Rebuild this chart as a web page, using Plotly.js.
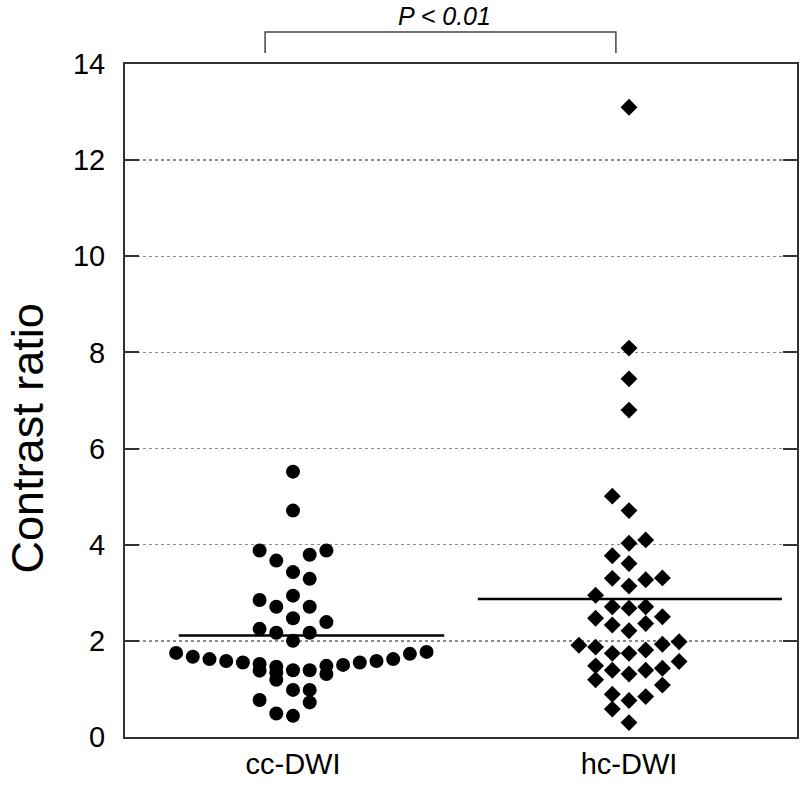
<!DOCTYPE html>
<html>
<head>
<meta charset="utf-8">
<script src="https://cdn.plot.ly/plotly-3.0.1.min.js"></script>
<style>
  html, body { margin: 0; padding: 0; background: #fff; }
  #chart { width: 800px; height: 786px; }
</style>
</head>
<body>
<div id="chart"></div>
<script>
// group labels
const groups = ["cc-DWI", "hc-DWI"];

// cc-DWI contrast ratios, with the dot-plot column each one sits in
const ccValues = [5.52, 4.71, 3.88, 3.67, 3.79, 3.88, 3.43, 3.29, 2.85, 2.71, 2.94, 2.71, 2.47, 2.39, 2.25, 2.17, 2.17, 2.00,
                  1.75, 1.67, 1.62, 1.58, 1.55, 1.52, 1.38, 0.77, 1.46, 1.34, 1.19, 0.49, 1.39, 0.98, 0.44, 1.39, 0.98, 0.72,
                  1.48, 1.31, 1.50, 1.55, 1.58, 1.62, 1.73, 1.77];
const ccCols   = [0, 0, -2, -1, 1, 2, 0, 1, -2, -1, 0, 1, 0, 2, -2, -1, 1, 0,
                  -7, -6, -5, -4, -3, -2, -2, -2, -1, -1, -1, -1, 0, 0, 0, 1, 1, 1,
                  2, 2, 3, 4, 5, 6, 7, 8];

// hc-DWI contrast ratios
const hcValues = [13.1, 8.09, 7.45, 6.80, 5.01, 4.71, 4.10, 4.03, 3.77, 3.61, 3.30, 3.14, 3.27, 3.31, 2.95, 2.71, 2.68, 2.71,
                  2.47, 2.33, 2.21, 2.36, 2.50, 1.91, 1.87, 1.74, 1.74, 1.81, 1.93, 1.98, 1.48, 1.39, 1.31, 1.39, 1.43, 1.57,
                  1.19, 1.08, 0.89, 0.76, 0.84, 0.58, 0.30];
const hcCols   = [0, 0, 0, 0, -1, 0, 1, 0, -1, 0, -1, 0, 1, 2, -2, -1, 0, 1,
                  -2, -1, 0, 1, 2, -3, -2, -1, 0, 1, 2, 3, -2, -1, 0, 1, 2, 3,
                  -2, 2, -1, 0, 1, -1, 0];

// horizontal summary lines
const meanValues = [2.11, 2.87];

const yTicks = [0, 2, 4, 6, 8, 10, 12, 14];
const pText = "P < 0.01";

const colStep = 0.0497;
const font = "Liberation Sans, Arial, sans-serif";

let traceCC = {
    x: ccCols.map(c => 0 + c * colStep),
    y: ccValues,
    type: 'scatter',
    mode: 'markers',
    name: groups[0],
    marker: { symbol: 'circle', size: 14, color: '#000' },
    hoverinfo: 'y'
};
let traceHC = {
    x: hcCols.map(c => 1 + c * colStep),
    y: hcValues,
    type: 'scatter',
    mode: 'markers',
    name: groups[1],
    marker: { symbol: 'diamond', size: 13, color: '#000' },
    hoverinfo: 'y'
};

let shapes = [
    // mean lines
    { type: 'line', xref: 'x', yref: 'y', x0: -0.34, x1: 0.45, y0: meanValues[0], y1: meanValues[0],
      line: { color: '#000', width: 2.5 } },
    { type: 'line', xref: 'x', yref: 'y', x0: 0.55, x1: 1.455, y0: meanValues[1], y1: meanValues[1],
      line: { color: '#000', width: 2.5 } },
    // significance bracket
    { type: 'path', xref: 'x', yref: 'paper',
      path: 'M -0.083 1.0163 L -0.083 1.0475 L 0.961 1.0475 L 0.961 1.0163',
      line: { color: '#444', width: 1.5 } }
];

let layout = {
    width: 800,
    height: 786,
    margin: { l: 125, r: 3, t: 64, b: 49 },
    paper_bgcolor: '#fff',
    plot_bgcolor: '#fff',
    showlegend: false,
    font: { family: font, color: '#000' },
    xaxis: {
        range: [-0.5, 1.5],
        tickvals: [0, 1],
        ticktext: groups,
        ticks: '',
        showgrid: false,
        zeroline: false,
        showline: true,
        mirror: true,
        linecolor: '#333',
        linewidth: 2,
        tickfont: { size: 29, family: font },
        ticklabelstandoff: 0
    },
    yaxis: {
        range: [0, 14],
        tickvals: yTicks,
        ticks: 'inside',
        ticklen: 14,
        tickwidth: 2,
        tickcolor: '#333',
        showline: true,
        mirror: 'ticks',
        linecolor: '#333',
        linewidth: 2,
        zeroline: false,
        showgrid: true,
        gridcolor: '#8a8a8a',
        gridwidth: 1.5,
        griddash: 'dot',
        tickfont: { size: 29, family: font },
        ticklabelstandoff: 12
    },
    shapes: shapes,
    annotations: [
        { text: pText, xref: 'x', yref: 'paper', x: 0.452, y: 1.071, showarrow: false,
          font: { size: 25, family: font, style: 'italic' }, xanchor: 'center', yanchor: 'middle' },
        { text: "Contrast ratio", xref: 'paper', yref: 'paper', x: -0.145, y: 0.443, textangle: -90,
          showarrow: false, xanchor: 'center', yanchor: 'middle', font: { size: 45, family: font } }
    ]
};

Plotly.newPlot('chart', [traceCC, traceHC], layout, { displayModeBar: false, staticPlot: true });
</script>
</body>
</html>
